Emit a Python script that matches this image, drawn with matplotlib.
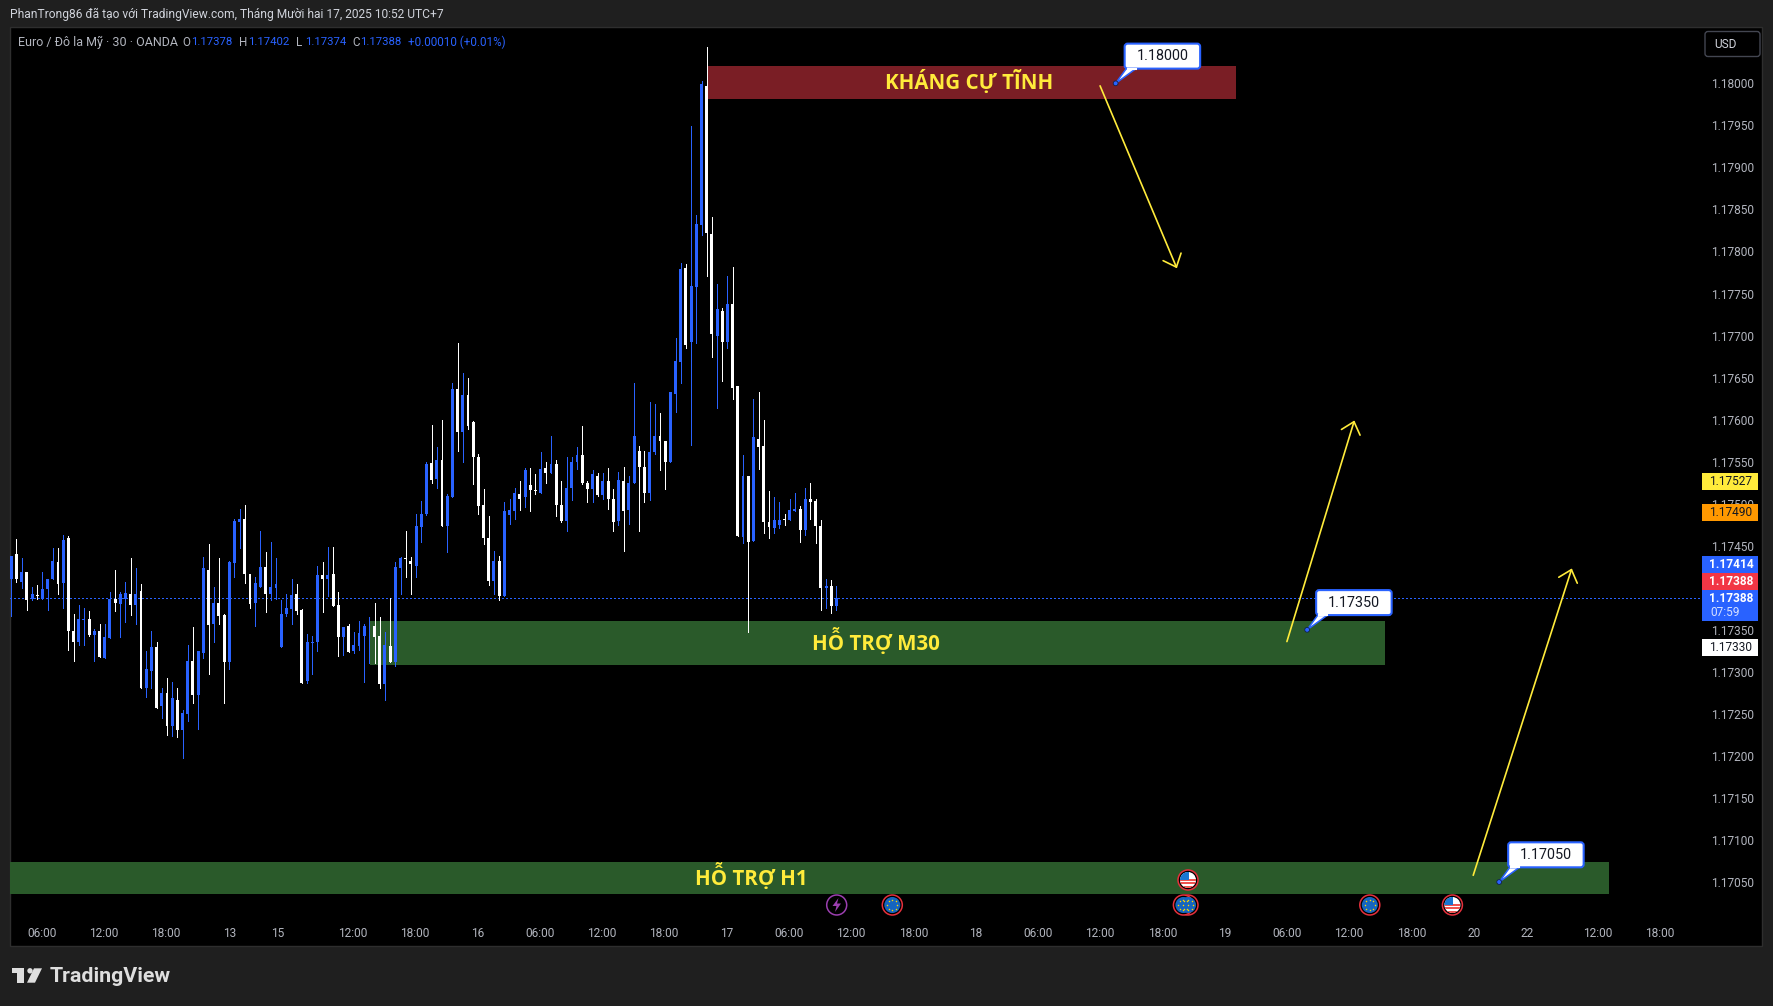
import matplotlib
matplotlib.use('Agg')
import matplotlib.pyplot as plt
from matplotlib.patches import Rectangle, FancyBboxPatch, Polygon, Circle
import numpy as np

plt.rcParams['font.family'] = ['Roboto', 'Noto Sans', 'DejaVu Sans']

W, H = 1773, 1006
BLUE = '#2962ff'
YELLOW = '#ffeb3b'
GREY = '#b2b5be'

# EURUSD 30m candles
opens = [
    1.17410, 1.17440, 1.17407, 1.17419, 1.17387, 1.17391, 1.17387, 1.17398, 1.17410, 1.17431,
    1.17406, 1.17459, 1.17349, 1.17335, 1.17362, 1.17363, 1.17344, 1.17349, 1.17317, 1.17340,
    1.17387, 1.17381, 1.17387, 1.17393, 1.17379, 1.17396, 1.17281, 1.17301, 1.17329, 1.17259,
    1.17275, 1.17235, 1.17267, 1.17231, 1.17250, 1.17313, 1.17272, 1.17322, 1.17421, 1.17357,
    1.17382, 1.17368, 1.17312, 1.17430, 1.17478, 1.17482, 1.17416, 1.17382, 1.17401, 1.17425,
    1.17392, 1.17400, 1.17330, 1.17369, 1.17375, 1.17393, 1.17373, 1.17289, 1.17334, 1.17336,
    1.17415, 1.17410, 1.17416, 1.17380, 1.17342, 1.17355, 1.17325, 1.17331, 1.17343, 1.17354,
    1.17354, 1.17343, 1.17285, 1.17331, 1.17312, 1.17424, 1.17435, 1.17432, 1.17426, 1.17472,
    1.17488, 1.17548, 1.17529, 1.17552, 1.17473, 1.17508, 1.17637, 1.17585, 1.17629, 1.17597,
    1.17555, 1.17499, 1.17459, 1.17408, 1.17432, 1.17390, 1.17487, 1.17491, 1.17511, 1.17508,
    1.17522, 1.17516, 1.17513, 1.17543, 1.17537, 1.17547, 1.17499, 1.17479, 1.17519, 1.17550,
    1.17558, 1.17525, 1.17518, 1.17533, 1.17510, 1.17527, 1.17505, 1.17479, 1.17527, 1.17492,
    1.17525, 1.17563, 1.17544, 1.17513, 1.17562, 1.17581, 1.17575, 1.17550, 1.17631, 1.17668,
    1.17780, 1.17692, 1.17758, 1.17831, 1.17997, 1.17821, 1.17700, 1.17729, 1.17692, 1.17737,
    1.17640, 1.17460, 1.17533, 1.17456, 1.17577, 1.17569, 1.17478, 1.17471, 1.17475, 1.17482,
    1.17481, 1.17491, 1.17494, 1.17469, 1.17505, 1.17503, 1.17474, 1.17400, 1.17402, 1.17378,
]
highs = [
    1.17438, 1.17458, 1.17435, 1.17419, 1.17401, 1.17403, 1.17419, 1.17411, 1.17447, 1.17447,
    1.17463, 1.17461, 1.17369, 1.17379, 1.17376, 1.17372, 1.17351, 1.17357, 1.17357, 1.17395,
    1.17421, 1.17395, 1.17407, 1.17435, 1.17423, 1.17405, 1.17325, 1.17349, 1.17335, 1.17281,
    1.17293, 1.17288, 1.17281, 1.17255, 1.17332, 1.17353, 1.17325, 1.17437, 1.17452, 1.17401,
    1.17435, 1.17369, 1.17432, 1.17482, 1.17494, 1.17499, 1.17416, 1.17413, 1.17467, 1.17443,
    1.17454, 1.17435, 1.17385, 1.17392, 1.17410, 1.17405, 1.17375, 1.17345, 1.17343, 1.17426,
    1.17431, 1.17449, 1.17449, 1.17395, 1.17353, 1.17357, 1.17347, 1.17360, 1.17357, 1.17365,
    1.17382, 1.17365, 1.17347, 1.17388, 1.17431, 1.17437, 1.17468, 1.17437, 1.17488, 1.17503,
    1.17549, 1.17594, 1.17568, 1.17599, 1.17511, 1.17643, 1.17691, 1.17656, 1.17650, 1.17598,
    1.17559, 1.17517, 1.17485, 1.17444, 1.17438, 1.17502, 1.17505, 1.17519, 1.17527, 1.17542,
    1.17543, 1.17535, 1.17561, 1.17549, 1.17581, 1.17552, 1.17527, 1.17555, 1.17556, 1.17567,
    1.17593, 1.17527, 1.17540, 1.17537, 1.17536, 1.17543, 1.17518, 1.17538, 1.17544, 1.17533,
    1.17643, 1.17569, 1.17563, 1.17621, 1.17619, 1.17608, 1.17575, 1.17633, 1.17697, 1.17786,
    1.17785, 1.17949, 1.17843, 1.18003, 1.18043, 1.17841, 1.17761, 1.17733, 1.17771, 1.17781,
    1.17640, 1.17558, 1.17533, 1.17624, 1.17633, 1.17600, 1.17515, 1.17508, 1.17502, 1.17488,
    1.17506, 1.17513, 1.17497, 1.17519, 1.17525, 1.17505, 1.17481, 1.17410, 1.17409, 1.17402,
]
lows = [
    1.17366, 1.17407, 1.17400, 1.17373, 1.17386, 1.17387, 1.17387, 1.17373, 1.17410, 1.17393,
    1.17376, 1.17326, 1.17313, 1.17332, 1.17332, 1.17343, 1.17313, 1.17318, 1.17317, 1.17340,
    1.17372, 1.17341, 1.17359, 1.17368, 1.17357, 1.17281, 1.17270, 1.17281, 1.17257, 1.17245,
    1.17225, 1.17224, 1.17223, 1.17197, 1.17241, 1.17263, 1.17232, 1.17316, 1.17297, 1.17335,
    1.17357, 1.17263, 1.17303, 1.17413, 1.17447, 1.17406, 1.17376, 1.17355, 1.17401, 1.17371,
    1.17385, 1.17387, 1.17330, 1.17367, 1.17357, 1.17369, 1.17287, 1.17287, 1.17297, 1.17325,
    1.17371, 1.17390, 1.17378, 1.17319, 1.17320, 1.17323, 1.17322, 1.17326, 1.17288, 1.17310,
    1.17311, 1.17281, 1.17266, 1.17312, 1.17307, 1.17393, 1.17413, 1.17393, 1.17413, 1.17455,
    1.17486, 1.17525, 1.17519, 1.17473, 1.17442, 1.17508, 1.17563, 1.17549, 1.17589, 1.17523,
    1.17488, 1.17452, 1.17403, 1.17393, 1.17385, 1.17390, 1.17476, 1.17482, 1.17493, 1.17496,
    1.17491, 1.17512, 1.17513, 1.17525, 1.17537, 1.17485, 1.17478, 1.17467, 1.17504, 1.17541,
    1.17523, 1.17502, 1.17502, 1.17509, 1.17505, 1.17494, 1.17467, 1.17475, 1.17444, 1.17476,
    1.17525, 1.17467, 1.17502, 1.17504, 1.17559, 1.17540, 1.17518, 1.17550, 1.17609, 1.17644,
    1.17685, 1.17570, 1.17691, 1.17820, 1.17771, 1.17675, 1.17614, 1.17646, 1.17685, 1.17625,
    1.17461, 1.17453, 1.17347, 1.17456, 1.17541, 1.17465, 1.17459, 1.17465, 1.17471, 1.17475,
    1.17481, 1.17491, 1.17455, 1.17463, 1.17482, 1.17453, 1.17374, 1.17376, 1.17370, 1.17374,
]
closes = [
    1.17438, 1.17410, 1.17419, 1.17386, 1.17393, 1.17390, 1.17399, 1.17410, 1.17432, 1.17405,
    1.17457, 1.17349, 1.17336, 1.17363, 1.17363, 1.17344, 1.17349, 1.17318, 1.17342, 1.17387,
    1.17382, 1.17392, 1.17394, 1.17380, 1.17393, 1.17281, 1.17303, 1.17329, 1.17257, 1.17275,
    1.17236, 1.17269, 1.17231, 1.17251, 1.17313, 1.17272, 1.17325, 1.17423, 1.17356, 1.17382,
    1.17366, 1.17312, 1.17431, 1.17479, 1.17482, 1.17416, 1.17381, 1.17406, 1.17425, 1.17392,
    1.17401, 1.17404, 1.17369, 1.17376, 1.17391, 1.17372, 1.17287, 1.17335, 1.17335, 1.17415,
    1.17410, 1.17415, 1.17378, 1.17342, 1.17353, 1.17324, 1.17332, 1.17346, 1.17354, 1.17355,
    1.17342, 1.17286, 1.17332, 1.17312, 1.17425, 1.17435, 1.17434, 1.17428, 1.17473, 1.17488,
    1.17547, 1.17528, 1.17552, 1.17474, 1.17509, 1.17637, 1.17585, 1.17629, 1.17593, 1.17556,
    1.17497, 1.17459, 1.17408, 1.17432, 1.17390, 1.17491, 1.17493, 1.17513, 1.17506, 1.17540,
    1.17516, 1.17515, 1.17541, 1.17536, 1.17547, 1.17498, 1.17479, 1.17519, 1.17550, 1.17558,
    1.17525, 1.17518, 1.17535, 1.17510, 1.17527, 1.17505, 1.17478, 1.17528, 1.17491, 1.17525,
    1.17581, 1.17544, 1.17513, 1.17562, 1.17581, 1.17574, 1.17549, 1.17633, 1.17670, 1.17779,
    1.17689, 1.17759, 1.17833, 1.17999, 1.17822, 1.17702, 1.17731, 1.17692, 1.17737, 1.17638,
    1.17461, 1.17533, 1.17454, 1.17579, 1.17567, 1.17478, 1.17472, 1.17481, 1.17481, 1.17481,
    1.17493, 1.17494, 1.17469, 1.17505, 1.17502, 1.17474, 1.17400, 1.17402, 1.17378, 1.17388,
]

# axis labels (1.17400 sits under the price tags, so it is left out)
price_ticks = [1.18000, 1.17950, 1.17900, 1.17850, 1.17800, 1.17750, 1.17700, 1.17650, 1.17600, 1.17550,
               1.17500, 1.17450, 1.17350, 1.17300, 1.17250, 1.17200, 1.17150, 1.17100, 1.17050]
time_ticks = [6, 17.8, 29.8, 42, 51.4, 65.8, 77.8, 89.8, 101.8, 113.8, 125.8, 137.8, 149.8, 161.8, 173.8,
              185.8, 197.8, 209.8, 221.8, 233.8, 245.8, 257.8, 269.8, 281.8, 292, 305.7, 317.7]
time_labels = ['06:00', '12:00', '18:00', '13', '15', '12:00', '18:00', '16', '06:00', '12:00', '18:00',
               '17', '06:00', '12:00', '18:00', '18', '06:00', '12:00', '18:00', '19', '06:00', '12:00',
               '18:00', '20', '22', '12:00', '18:00']

# drawn zones: left bar, right bar, low, high, label, label bar, colour
zones = [
    (134.0, 235.9, 1.17981, 1.18021, 'KHÁNG CỰ TĨNH', 184.6, '#7a1e25'),
    (69.1, 264.7, 1.17308, 1.17361, 'HỖ TRỢ M30', 166.6, '#2a5a2a'),
    (-0.3, 307.9, 1.17036, 1.17074, 'HỖ TRỢ H1', 142.6, '#2a5a2a'),
]
# arrows: bar, price -> bar, price
arrows = [
    (209.8, 1.17997, 224.6, 1.17780),
    (245.8, 1.17336, 258.8, 1.17599),
    (281.7, 1.17058, 300.7, 1.17423),
]
callout_bars = [212.8, 249.7, 286.7]
callout_prices = [1.18000, 1.17350, 1.17050]

fig = plt.figure(figsize=(W / 100, H / 100), dpi=100, facecolor='#1f1f1f')
fig.add_artist(Rectangle((10 / W, 1 - 946 / H), 1752 / W, 919 / H, transform=fig.transFigure,
                         facecolor='black', edgecolor='#2e2e2e', lw=1, zorder=-1))

ax = fig.add_axes([10 / W, 1 - 918 / H, 1690 / W, 891 / H], facecolor='none')
ax.set_xlim(-0.25, 325.4)
ax.set_ylim(1.170072, 1.18067)
for s in ax.spines.values():
    s.set_visible(False)

for x0, x1, lo, hi, label, lx, col in zones:
    ax.add_patch(Rectangle((x0, lo), x1 - x0, hi - lo, facecolor=col, edgecolor='none', zorder=1))
    ax.text(lx, (lo + hi) / 2 + 0.00001, label, color=YELLOW, fontsize=14.8, fontweight='bold',
            family=['Open Sans', 'DejaVu Sans'], ha='center', va='center', zorder=5)

# last price line
ax.axhline(closes[-1], color=BLUE, lw=0.8, ls=(0, (1.2, 2.4)), zorder=2, antialiased=False)

idx = np.arange(len(opens))
o = np.array(opens)
c = np.array(closes)
colors = [BLUE if b >= a else 'white' for a, b in zip(opens, closes)]
ax.vlines(idx, lows, highs, colors=colors, lw=0.72, zorder=3, antialiased=False)
ax.bar(idx, np.abs(c - o), bottom=np.minimum(o, c), width=0.56, color=colors, lw=0, zorder=4)

for x0, y0, x1, y1 in arrows:
    ax.annotate('', xy=(x1, y1), xytext=(x0, y0), zorder=6,
                arrowprops=dict(arrowstyle='->,head_length=0.8,head_width=0.7', color=YELLOW,
                                lw=1.2, shrinkA=0, shrinkB=0))

ax.set_yticks(price_ticks)
ax.set_yticklabels([f'{p:.5f}' for p in price_ticks])
ax.yaxis.tick_right()
ax.set_xticks(time_ticks)
ax.set_xticklabels(time_labels)
ax.tick_params(axis='y', length=0, pad=7.9, labelsize=8.6, labelcolor=GREY)
ax.tick_params(axis='x', length=0, pad=6.5, labelsize=8.6, labelcolor=GREY)

# overlay in pixels for the price tags and the TradingView furniture
ov = fig.add_axes([0, 0, 1, 1], facecolor='none')
ov.set_xlim(0, W)
ov.set_ylim(H, 0)
ov.axis('off')


def to_px(x, y):
    px, py = ax.transData.transform((x, y))
    return px, H - py


for bar, price in zip(callout_bars, callout_prices):
    dx, dy = to_px(bar, price)
    bx, by = dx + 9, dy - 39.7
    ov.add_patch(Polygon([(dx, dy), (bx + 2, by + 24.5), (bx + 12, by + 24.5)], closed=True,
                         facecolor='white', edgecolor=BLUE, lw=1.1, zorder=3))
    ov.add_patch(FancyBboxPatch((bx, by), 75.5, 25, boxstyle='round,pad=0,rounding_size=3',
                                facecolor='white', edgecolor=BLUE, lw=1.5, zorder=4))
    ov.plot([bx + 3, bx + 11], [by + 25, by + 25], color='white', lw=1.5, zorder=5)
    ov.add_patch(Circle((dx, dy), 2.4, facecolor=BLUE, edgecolor='#10204a', lw=0.6, zorder=6))
    ov.text(bx + 38, by + 12.5, f'{price:.5f}', color='#131722', fontsize=10.4, ha='center', va='center', zorder=7)

# price scale tags: text, top, bottom, face, text colour, weight
tags = [
    ('1.17527', 473, 490, '#ffeb3b', '#131722', 'normal'),
    ('1.17490', 504, 521, '#ff9800', '#131722', 'normal'),
    ('1.17414', 556, 573, BLUE, 'white', 'bold'),
    ('1.17388', 573, 590, '#f23645', 'white', 'bold'),
    ('1.17330', 639, 656, 'white', '#131722', 'normal'),
]
for text, top, bot, face, tc, weight in tags:
    ov.add_patch(Rectangle((1702, top), 56, bot - top, facecolor=face, edgecolor='none', zorder=2))
    ov.text(1731, (top + bot) / 2, text, color=tc, fontsize=8.6, fontweight=weight,
            ha='center', va='center', zorder=3)
ov.add_patch(Rectangle((1702, 590), 56, 31, facecolor=BLUE, edgecolor='none', zorder=2))
ov.text(1731, 598, '1.17388', color='white', fontsize=8.6, fontweight='bold', ha='center', va='center', zorder=3)
ov.text(1710, 613, '07:59', color='#d6e0ff', fontsize=8.6, ha='left', va='center', zorder=3)

# USD button
ov.add_patch(FancyBboxPatch((1705, 31.5), 55, 25, boxstyle='round,pad=0,rounding_size=3',
                            facecolor='black', edgecolor='#434651', lw=1))
ov.text(1725, 44, 'USD', color='#d1d4dc', fontsize=8.6, ha='center', va='center')

# header and legend
ov.text(10, 14.5, 'PhanTrong86 đã tạo với TradingView.com, Tháng Mười hai 17, 2025 10:52 UTC+7',
        color='#d1d4dc', fontsize=8.68, ha='left', va='center')
legend_parts = [
    (18, 'Euro / Đô la Mỹ · 30 · OANDA', GREY, 9.0), (182, 'O', GREY, 8.4), (191, '1.17378', BLUE, 8.2),
    (239, 'H', GREY, 8.4), (248, '1.17402', BLUE, 8.2), (296, 'L', GREY, 8.4), (305, '1.17374', BLUE, 8.2),
    (352, 'C', GREY, 8.4), (360, '1.17388', BLUE, 8.2), (408, '+0.00010 (+0.01%)', BLUE, 8.4),
]
for x, text, col, size in legend_parts:
    ov.text(x, 42, text, color=col, fontsize=size, ha='left', va='center')

# event icons
eu_icons = [(892.3, 905), (1188, 905), (1183.4, 905), (1369.8, 905)]
us_icons = [(1188, 880), (1452.4, 905)]
for x, y in eu_icons:
    ov.add_patch(Circle((x, y), 10, facecolor='black', edgecolor='#e5303c', lw=1.1, zorder=3))
    ov.add_patch(Circle((x, y), 8, facecolor='#1565c0', edgecolor='none', zorder=4))
    ang = np.linspace(0, 2 * np.pi, 8, endpoint=False)
    ov.scatter(x + 5 * np.cos(ang), y + 5 * np.sin(ang), s=1.2, color='#ffd600', lw=0, zorder=5)
for x, y in us_icons:
    ov.add_patch(Circle((x, y), 10, facecolor='black', edgecolor='#e5303c', lw=1.1, zorder=3))
    disc = Circle((x, y), 8, facecolor='white', edgecolor='none', zorder=4)
    ov.add_patch(disc)
    for k in range(3):
        st = ov.add_patch(Rectangle((x - 8, y - 1 + k * 3.4), 16, 1.8, facecolor='#ef5350', edgecolor='none', zorder=5))
        st.set_clip_path(disc)
    can = ov.add_patch(Rectangle((x - 8, y - 8), 9, 7.5, facecolor='#1976d2', edgecolor='none', zorder=6))
    can.set_clip_path(disc)
ov.add_patch(Circle((836.7, 905), 10, facecolor='black', edgecolor='#9c3fb0', lw=1.1, zorder=3))
ov.add_patch(Polygon([(838.5, 898), (832.5, 906), (836.5, 906), (835, 912), (841, 903.5), (837, 903.5)],
                     closed=True, facecolor='#9c3fb0', edgecolor='none', zorder=4))

# TradingView logo
ov.add_patch(Polygon([(12, 968.3), (24.3, 968.3), (24.3, 982.7), (16.7, 982.7), (16.7, 973.3), (12, 973.3)],
                     closed=True, facecolor='#dedede', edgecolor='none'))
ov.add_patch(Circle((30, 970.8), 2.7, facecolor='#dedede', edgecolor='none'))
ov.add_patch(Polygon([(34, 968.3), (42, 968.3), (35, 982.7), (27, 982.7)], closed=True,
                     facecolor='#dedede', edgecolor='none'))
ov.text(50, 976, 'TradingView', color='#dedede', fontsize=15.4, fontweight='bold', ha='left', va='center')

fig.savefig('out.png', dpi=100, facecolor=fig.get_facecolor())
